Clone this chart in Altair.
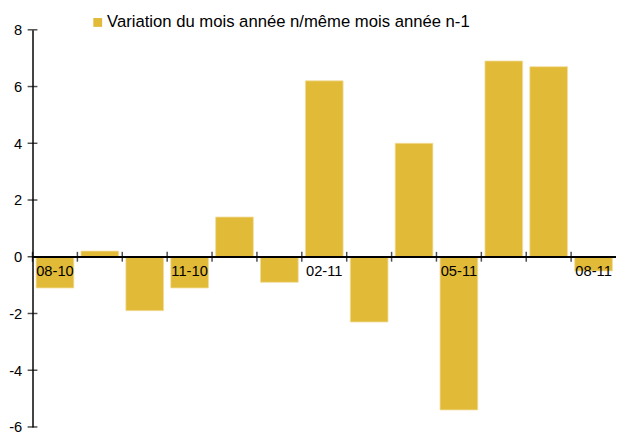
import altair as alt
import pandas as pd

months = ["08-10", "09-10", "10-10", "11-10", "12-10", "01-11", "02-11",
          "03-11", "04-11", "05-11", "06-11", "07-11", "08-11"]
values = [-1.1, 0.2, -1.9, -1.1, 1.4, -0.9, 6.2, -2.3, 4.0, -5.4, 6.9, 6.7, -0.5]
shown_labels = ["08-10", "11-10", "02-11", "05-11", "08-11"]
y_ticks = [-6, -4, -2, 0, 2, 4, 6, 8]
series = "Variation du mois année n/même mois année n-1"

FONT = "Liberation Sans"
COLOR = "#E1BA37"
HALF = 0.42

df = pd.DataFrame({"month": months, "value": values})
df["i"] = range(len(df))
df["x0"] = df["i"] - HALF
df["x1"] = df["i"] + HALF
df["tick"] = df["i"] - 0.5
df["label"] = [m if m in shown_labels else "" for m in months]
df["series"] = series

n = len(months)
xscale = alt.Scale(domain=[-0.5, n - 0.5], nice=False, zero=False)
yscale = alt.Scale(domain=[-6, 8], nice=False, zero=False)

base = alt.Chart(df)

bars = base.mark_bar(stroke="#F2DD9C", strokeWidth=0.8).encode(
    x=alt.X("x0:Q", scale=xscale, axis=None),
    x2="x1:Q",
    y=alt.Y("value:Q", scale=yscale,
            axis=alt.Axis(values=y_ticks, grid=False, ticks=False, domain=True,
                          domainColor="black", domainWidth=1.5, labelPadding=11,
                          labelExpr="replace(format(datum.value, 'd'), '\u2212', '-')",
                          labelFontSize=15, labelFont=FONT, labelColor="black",
                          title=None)),
    y2=alt.datum(0),
    color=alt.Color("series:N", scale=alt.Scale(domain=[series], range=[COLOR]),
                    legend=alt.Legend(title=None, orient="none", legendX=58, legendY=-16,
                                      symbolType="square", symbolSize=81,
                                      symbolStrokeWidth=0, labelFontSize=17,
                                      labelFont=FONT, labelColor="black",
                                      labelOffset=1, labelLimit=500)),
)

zero_line = base.mark_rule(color="black", strokeWidth=1.5).encode(y=alt.datum(0))

xticks = base.mark_tick(orient="vertical", size=10, thickness=1.5, color="black").encode(
    x=alt.X("tick:Q", scale=xscale, axis=None),
    y=alt.datum(0),
)

yt = pd.DataFrame({"v": y_ticks})
yticks = alt.Chart(yt).mark_tick(orient="horizontal", size=10, thickness=1.5, color="black").encode(
    y=alt.Y("v:Q", scale=yscale),
    x=alt.value(0),
)

labels = base.mark_text(baseline="middle", align="center", dy=15, fontSize=15,
                        font=FONT, color="black").encode(
    x=alt.X("i:Q", scale=xscale, axis=None),
    y=alt.datum(0),
    text="label:N",
)

chart = alt.layer(bars, zero_line, xticks, yticks, labels).properties(
    width=595, height=405,
    autosize=alt.AutoSizeParams(type="none"),
    padding={"left": 25, "top": 18, "right": 0, "bottom": 6},
).configure_view(stroke=None)

chart.save("out.html", embed_options={"renderer": "svg", "actions": False})
